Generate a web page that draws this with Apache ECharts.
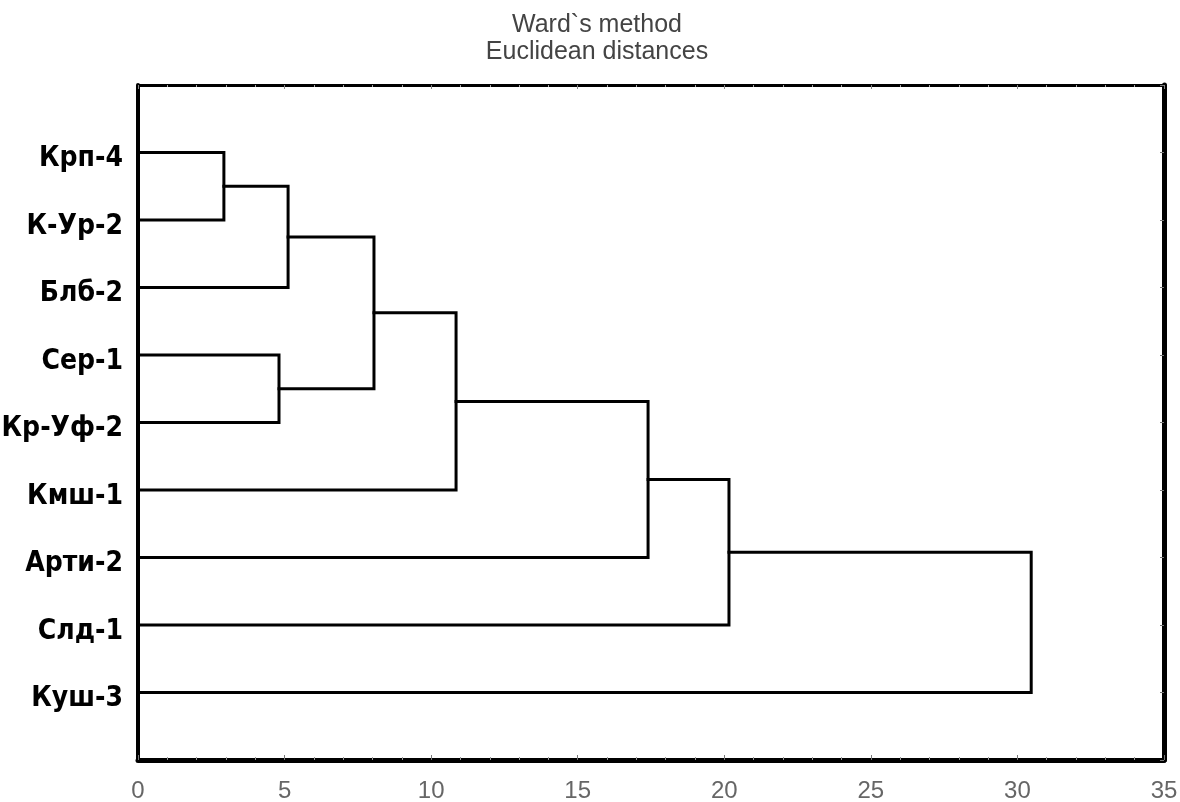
<!DOCTYPE html>
<html>
<head>
<meta charset="utf-8">
<script src="https://cdn.jsdelivr.net/npm/echarts@6/dist/echarts.min.js"></script>
<style>
  html, body { margin: 0; padding: 0; background: #ffffff; }
  #chart { width: 1180px; height: 802px; }
</style>
</head>
<body>
<div id="chart"></div>
<script>
// Leaves (top to bottom)
const leaves = ['Крп-4', 'К-Ур-2', 'Блб-2', 'Сер-1', 'Кр-Уф-2', 'Кмш-1', 'Арти-2', 'Слд-1', 'Куш-3'];
// Merges: node ids 0..8 are leaves, merge k creates node 9+k
const mergeLeft   = [0, 9, 3, 10, 12, 13, 14, 15];
const mergeRight  = [1, 2, 4, 11, 5, 6, 7, 8];
const mergeHeight = [2.93, 5.12, 4.81, 8.05, 10.85, 17.40, 20.16, 30.47];
const titleLines = ['Ward`s method', 'Euclidean distances'];
const xMin = 0, xMax = 35, xStep = 5;

// build node positions
const nodeY = leaves.map((_, i) => i);
const nodeH = leaves.map(() => 0);
const links = [];
for (let k = 0; k < mergeHeight.length; k++) {
  const l = mergeLeft[k], r = mergeRight[k], H = mergeHeight[k];
  links.push({ coords: [[nodeH[l], nodeY[l]], [H, nodeY[l]], [H, nodeY[r]], [nodeH[r], nodeY[r]]] });
  nodeY.push((nodeY[l] + nodeY[r]) / 2);
  nodeH.push(H);
}

const chart = echarts.init(document.getElementById('chart'));
chart.setOption({
  backgroundColor: '#ffffff',
  animation: false,
  graphic: [
    { type: 'text', x: 597, y: 25, style: { text: titleLines[0], font: '25px "Liberation Sans", Arial, sans-serif', fill: '#444', textAlign: 'center', textVerticalAlign: 'middle' } },
    { type: 'text', x: 597, y: 52, style: { text: titleLines[1], font: '25px "Liberation Sans", Arial, sans-serif', fill: '#444', textAlign: 'center', textVerticalAlign: 'middle' } }
  ],
  grid: { left: 138, right: 16, top: 85, bottom: 42, containLabel: false, outerBoundsMode: 'none' },
  xAxis: [
    {
      type: 'value', position: 'bottom', min: xMin, max: xMax, interval: xStep,
      axisLine: { show: true, onZero: false, lineStyle: { color: '#000', width: 5 } },
      axisTick: { show: true, inside: true, length: 5, lineStyle: { color: '#777', width: 1 } },
      minorTick: { show: true, splitNumber: 5, length: 3, lineStyle: { color: '#999', width: 1 } },
      axisLabel: { show: true, margin: 19, color: '#666', fontSize: 24, fontFamily: '"Liberation Sans", Arial, sans-serif' },
      splitLine: { show: false }
    },
    {
      type: 'value', position: 'top', min: xMin, max: xMax, interval: xStep,
      axisLine: { show: true, onZero: false, lineStyle: { color: '#000', width: 3 } },
      axisTick: { show: true, inside: true, length: 4, lineStyle: { color: '#888', width: 1 } },
      minorTick: { show: true, splitNumber: 5, length: 2, lineStyle: { color: '#aaa', width: 1 } },
      axisLabel: { show: false },
      splitLine: { show: false }
    }
  ],
  yAxis: [
    {
      type: 'value', position: 'left', min: -1, max: leaves.length, interval: 1, inverse: true,
      axisLine: { show: true, onZero: false, lineStyle: { color: '#000', width: 4 } },
      axisTick: { show: false },
      axisLabel: {
        show: true, margin: 15, color: '#000', fontSize: 28, fontWeight: 'bold',
        fontFamily: '"DejaVu Sans Condensed", "DejaVu Sans", sans-serif',
        verticalAlign: 'top', lineHeight: 13,
        formatter: v => (leaves[v] !== undefined ? leaves[v] : '')
      },
      splitLine: { show: false }
    },
    {
      type: 'value', position: 'right', min: -1, max: leaves.length, interval: 1, inverse: true,
      axisLine: { show: true, onZero: false, lineStyle: { color: '#000', width: 5 } },
      axisTick: { show: true, inside: true, length: 4, lineStyle: { color: '#777', width: 1 } },
      axisLabel: { show: false },
      splitLine: { show: false }
    }
  ],
  series: [
    {
      type: 'lines',
      coordinateSystem: 'cartesian2d',
      xAxisIndex: 0, yAxisIndex: 0,
      polyline: true,
      silent: true,
      lineStyle: { color: '#000', width: 3, opacity: 1, join: 'miter', cap: 'square' },
      data: links
    }
  ]
});
</script>
</body>
</html>
